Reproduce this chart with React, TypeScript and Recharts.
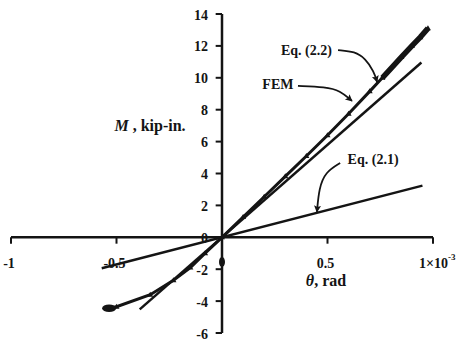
import { ComposedChart, Line, Scatter, XAxis, YAxis, ReferenceLine, ReferenceDot } from 'recharts';

// FEM moment-rotation curve (theta in 1e-3 rad, M in kip-in.)
const femTheta = [-0.535, -0.5, -0.34, -0.23, -0.15, -0.08, 0, 0.1, 0.2, 0.3, 0.4, 0.5, 0.6, 0.7, 0.76, 0.85, 0.9, 0.94, 0.976];
const femMoment = [-4.45, -4.35, -3.6, -2.7, -1.9, -1.0, 0, 1.27, 2.54, 3.82, 5.1, 6.4, 7.75, 9.15, 10.0, 11.3, 12.0, 12.55, 13.1];
const femDenseFrom = 0.76;

// closed-form predictions
const eq21Theta = [-0.57, 0.95];
const eq21Moment = [-1.94, 3.24];
const eq22Theta = [-0.39, 0.945];
const eq22Moment = [-4.52, 10.96];

// loose points drawn as blobs
const endBlob = [{ x: -0.535, y: -4.45 }];
const axisBlob = [{ x: 0, y: -1.55 }];

// axes
const xTicks = [-1, -0.5, 0.5, 1];
const xTickLabels = ['-1', '-0.5', '0.5', '1\u00d710'];
const yTicks = [-6, -4, -2, 0, 2, 4, 6, 8, 10, 12, 14];

// callout leaders: [theta, M] control points, text position
const eq22Leader = { theta: [0.55, 0.63, 0.68, 0.72, 0.735], m: [11.74, 11.65, 11.2, 10.4, 9.74] };
const femLeader = { theta: [0.36, 0.49, 0.56, 0.616], m: [9.49, 9.42, 9.2, 8.55] };
const eq21Leader = { theta: [0.56, 0.49, 0.46, 0.45], m: [4.66, 4.09, 3.09, 1.59] };
const callouts = [
  { text: 'Eq. (2.2)', x: 0.4, y: 11.74 },
  { text: 'FEM', x: 0.265, y: 9.55 },
  { text: 'Eq. (2.1)', x: 0.716, y: 4.85 },
];

const toPoints = (xs: number[], ys: number[]) => xs.map((x, i) => ({ x, y: ys[i] }));

const femData = toPoints(femTheta, femMoment);
const femDense = femData.filter((p) => p.x >= femDenseFrom);
const eq21Data = toPoints(eq21Theta, eq21Moment);
const eq22Data = toPoints(eq22Theta, eq22Moment);

const INK = '#141414';
const FONT = "'Liberation Serif', serif";

const Txt = (props: any) => {
  const { viewBox, dx = 0, dy = 0, anchor = 'middle', size = 14, children } = props;
  return (
    <text
      x={viewBox.x + dx}
      y={viewBox.y + dy}
      textAnchor={anchor}
      dominantBaseline="central"
      style={{ fontFamily: FONT, fontSize: size, fontWeight: 'bold' }}
      fill={INK}
    >
      {children}
    </text>
  );
};

const Triangle = (props: any) => {
  const { cx, cy, index } = props;
  if (cx == null || cy == null || index === 0) return <g key={`t${index}`} />;
  return <path key={`t${index}`} d={`M${cx},${cy - 3} L${cx + 3},${cy + 2} L${cx - 3},${cy + 2} Z`} fill={INK} />;
};

const Blob = (rx: number, ry: number) => (props: any) => (
  <ellipse cx={props.cx} cy={props.cy} rx={rx} ry={ry} fill={INK} />
);

const leader = (l: { theta: number[]; m: number[] }) => toPoints(l.theta, l.m);

export default function App() {
  return (
    <div>
      <style>{'body{margin:0}'}</style>
      <svg width={0} height={0} style={{ position: 'absolute' }}>
        <defs>
          <marker id="head" viewBox="0 0 10 10" refX={9} refY={5} markerWidth={10} markerHeight={7} markerUnits="userSpaceOnUse" orient="auto">
            <path d="M0,0 L10,5 L0,10 L2,5 Z" fill={INK} />
          </marker>
        </defs>
      </svg>
      <ComposedChart width={459} height={343} margin={{ top: 14, right: 26, bottom: 10, left: 11 }}>
        <XAxis type="number" dataKey="x" domain={[-1, 1]} hide />
        <YAxis type="number" dataKey="y" domain={[-6, 14]} hide />

        {/* axes through the origin */}
        <ReferenceLine segment={[{ x: -1, y: 0 }, { x: 1, y: 0 }]} stroke={INK} strokeWidth={2.5} />
        <ReferenceLine segment={[{ x: 0, y: -6 }, { x: 0, y: 14 }]} stroke={INK} strokeWidth={2.5} />
        {xTicks.map((t) => (
          <ReferenceLine key={`xt${t}`} segment={[{ x: t, y: 0 }, { x: t, y: -0.4 }]} stroke={INK} strokeWidth={2} />
        ))}
        {yTicks.map((t) => (
          <ReferenceLine key={`yt${t}`} segment={[{ x: 0, y: t }, { x: -0.03, y: t }]} stroke={INK} strokeWidth={2} />
        ))}
        {xTicks.map((t, i) => (
          <ReferenceDot
            key={`xl${t}`}
            x={t}
            y={0}
            r={0}
            fill="none"
            stroke="none"
            label={
              i === xTicks.length - 1 ? (
                <Txt dx={-14} dy={26} anchor="start">
                  {xTickLabels[i]}
                  <tspan dy={-6} fontSize={9}>-3</tspan>
                </Txt>
              ) : (
                <Txt dx={-2} dy={26}>{xTickLabels[i]}</Txt>
              )
            }
          />
        ))}
        {yTicks.map((t) => (
          <ReferenceDot key={`yl${t}`} x={0} y={t} r={0} fill="none" stroke="none" label={<Txt dx={-14} dy={1} anchor="end">{String(t)}</Txt>} />
        ))}
        <ReferenceDot
          x={-0.341}
          y={7.04}
          r={0}
          fill="none"
          stroke="none"
          label={
            <Txt size={16}>
              <tspan fontStyle="italic">M</tspan> , kip-in.
            </Txt>
          }
        />
        <ReferenceDot
          x={0.493}
          y={-2.68}
          r={0}
          fill="none"
          stroke="none"
          label={
            <Txt size={16}>
              <tspan fontStyle="italic">θ</tspan>, rad
            </Txt>
          }
        />

        {/* predictions */}
        <Line data={eq21Data} dataKey="y" type="linear" stroke={INK} strokeWidth={2.5} dot={false} isAnimationActive={false} />
        <Line data={eq22Data} dataKey="y" type="linear" stroke={INK} strokeWidth={2.5} dot={false} isAnimationActive={false} />

        {/* FEM */}
        <Line data={femData} dataKey="y" type="linear" stroke={INK} strokeWidth={3} dot={<Triangle />} isAnimationActive={false} />
        <Line data={femDense} dataKey="y" type="linear" stroke={INK} strokeWidth={5.5} dot={false} isAnimationActive={false} />
        <Scatter data={endBlob} shape={Blob(7, 3.8)} isAnimationActive={false} />
        <Scatter data={axisBlob} shape={Blob(3, 5)} isAnimationActive={false} />

        {/* callouts */}
        {[eq22Leader, femLeader, eq21Leader].map((l, i) => (
          <Line
            key={`ld${i}`}
            data={leader(l)}
            dataKey="y"
            type="basis"
            stroke={INK}
            strokeWidth={1.8}
            dot={false}
            markerEnd="url(#head)"
            isAnimationActive={false}
          />
        ))}
        {callouts.map((c) => (
          <ReferenceDot key={c.text} x={c.x} y={c.y} r={0} fill="none" stroke="none" label={<Txt size={14}>{c.text}</Txt>} />
        ))}
      </ComposedChart>
    </div>
  );
}
